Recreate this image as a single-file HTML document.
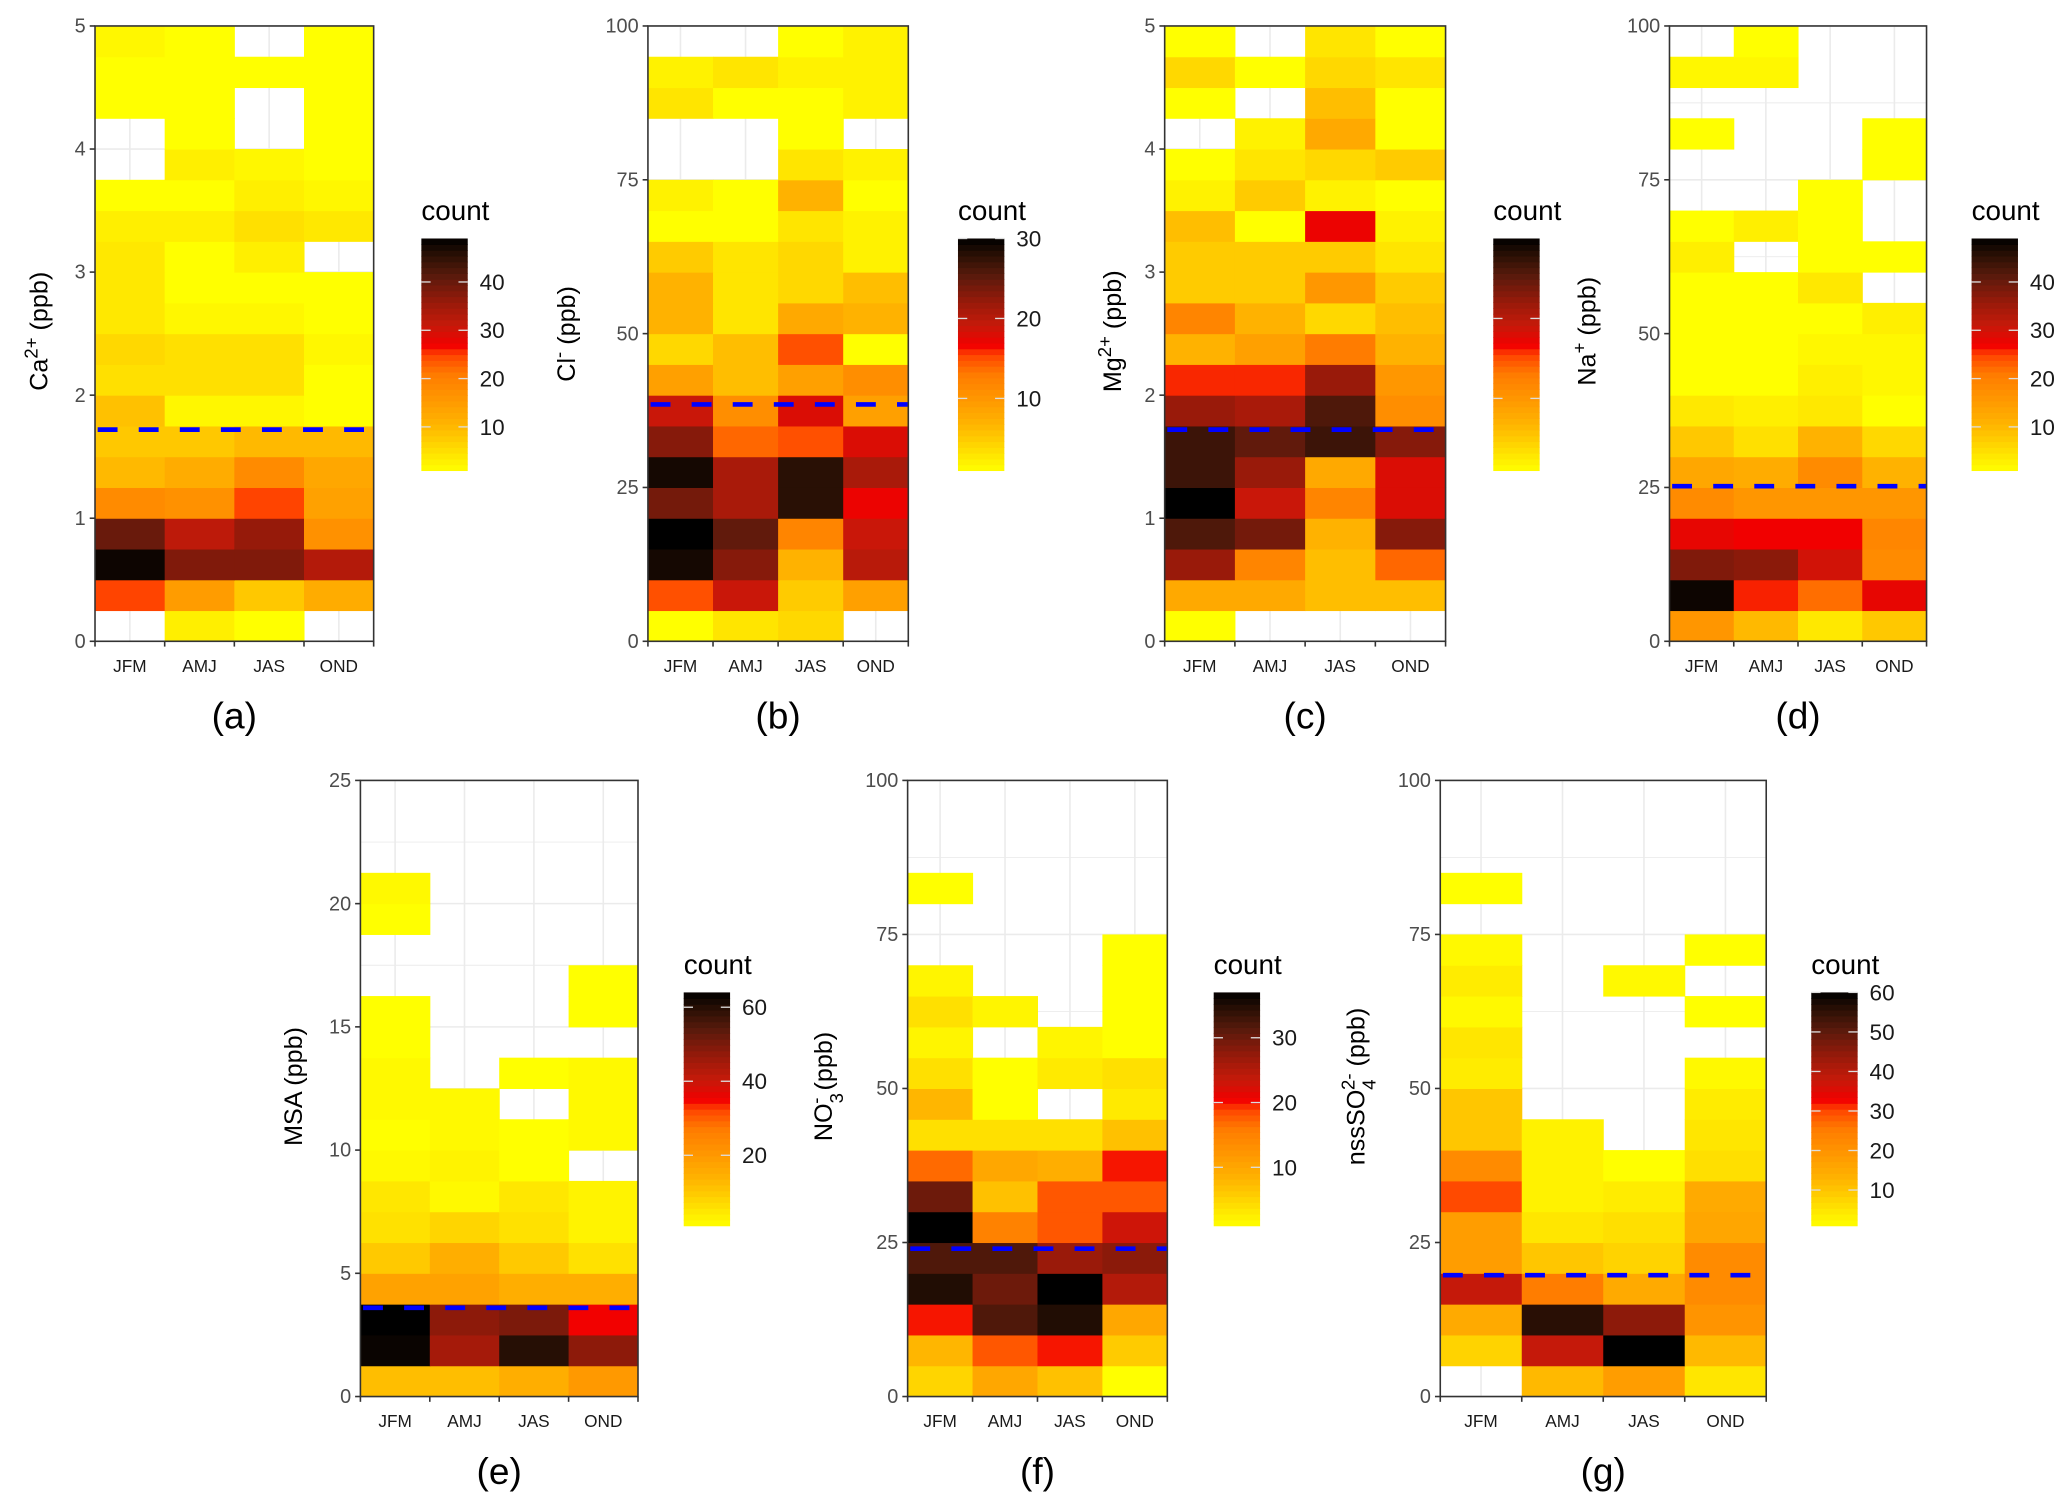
<!DOCTYPE html>
<html><head><meta charset="utf-8"><title>Seasonal concentration heatmaps</title>
<style>html,body{margin:0;padding:0;background:#fff}svg{display:block}</style></head>
<body>
<svg id="fig" xmlns="http://www.w3.org/2000/svg" width="2067" height="1502" viewBox="0 0 1560 1133.6" font-family="'Liberation Sans', sans-serif"></svg>
<script>
// ---- data (rows listed bottom-up, columns JFM, AMJ, JAS, OND; null = no data) ----
const seasons = ["JFM","AMJ","JAS","OND"];
const caCounts = [[null,3,1,null],[25,15,8,12],[48,38,38,33],[40,32,36,17],[18,17,25,14],[10,12,18,13],[8,8,10,10],[9,2,2,1],[5,5,5,1],[6,5,5,2],[4,2,2,1],[4,1,1,1],[4,1,3,null],[3,3,5,4],[1,1,3,2],[null,3,2,1],[null,1,null,1],[1,1,null,1],[1,1,1,1],[2,1,null,1]];
const clCounts = [[1,3,4,null],[15,19,5,9],[29,23,7,20],[30,25,12,19],[24,21,28,17],[29,21,28,21],[23,14,15,18],[19,11,18,9],[9,6,9,11],[4,6,15,1],[7,3,8,7],[7,3,4,6],[5,3,4,2],[1,1,3,2],[2,1,7,1],[null,null,3,2],[null,null,1,null],[3,1,1,2],[2,3,2,2],[null,null,1,2]];
const mgCounts = [[1,null,null,null],[8,8,6,6],[22,12,6,14],[26,24,7,23],[30,19,12,18],[27,22,8,18],[27,25,27,23],[22,21,26,11],[16,16,22,10],[7,9,13,7],[12,7,4,6],[5,5,10,5],[5,5,5,3],[6,1,17,2],[2,5,2,1],[1,3,4,5],[null,2,8,1],[1,null,6,1],[4,1,4,3],[1,null,3,1]];
const naCounts = [[16,10,4,8],[48,26,22,28],[38,37,30,18],[28,27,27,19],[18,16,16,16],[13,12,18,11],[8,5,11,6],[4,3,4,1],[1,1,3,2],[1,1,2,2],[1,1,1,3],[1,1,4,null],[3,null,1,1],[1,3,1,null],[null,null,1,null],[null,null,null,1],[1,null,null,1],[null,null,null,null],[2,2,null,null],[null,1,null,null]];
const msaCounts = [[12,12,15,20],[63,45,60,48],[65,48,50,35],[18,18,15,15],[10,15,10,6],[6,8,6,3],[5,2,5,3],[2,3,1,null],[1,2,1,2],[2,2,null,2],[2,null,1,2],[1,null,null,null],[1,null,null,1],[null,null,null,1],[null,null,null,null],[1,null,null,null],[2,null,null,null],[null,null,null,null],[null,null,null,null],[null,null,null,null]];
const no3Counts = [[5,10,7,1],[8,18,20,6],[20,32,35,10],[35,30,37,25],[32,32,27,28],[37,15,18,23],[30,7,18,18],[17,10,9,20],[4,4,4,7],[8,1,null,3],[4,1,3,4],[2,null,2,1],[4,2,null,1],[2,null,null,1],[null,null,null,1],[null,null,null,null],[1,null,null,null],[null,null,null,null],[null,null,null,null],[null,null,null,null]];
const so4Counts = [[null,12,18,5],[8,38,60,12],[15,56,45,20],[38,25,15,22],[18,10,8,22],[18,5,6,16],[30,3,4,15],[22,3,1,6],[10,3,null,5],[10,null,null,4],[4,null,null,2],[5,null,null,null],[2,null,null,1],[4,null,2,null],[2,null,null,1],[null,null,null,null],[1,null,null,null],[null,null,null,null],[null,null,null,null],[null,null,null,null]];
const yMaxes = [5,100,5,100,25,100,100];
const yTickLabels = [[0,1,2,3,4,5],[0,25,50,75,100],[0,1,2,3,4,5],[0,25,50,75,100],[0,5,10,15,20,25],[0,25,50,75,100],[0,25,50,75,100]];
const thresholds = [1.72,38.5,1.72,25.2,3.6,24,19.7];
const countMax = [49,30,30,49,64,37,60];
const legendTicks = [[10,20,30,40],[10,20,30],[10,20],[10,20,30,40],[20,40,60],[10,20,30],[10,20,30,40,50,60]];
const showLegendLabels = [true,true,false,true,true,true,true];
const panelLetters = ["(a)","(b)","(c)","(d)","(e)","(f)","(g)"];
const allCounts = [caCounts,clCounts,mgCounts,naCounts,msaCounts,no3Counts,so4Counts];

// ---- layout ----
const layout = [
 {x0:71.7,x1:282,y0:19.6,y1:484, lx:318, ly0:180, ly1:355, tx:30, ty:250},
 {x0:489,x1:685.5,y0:19.6,y1:484, lx:723, ly0:180, ly1:355, tx:428, ty:252},
 {x0:879,x1:1091,y0:19.6,y1:484, lx:1127, ly0:180, ly1:355, tx:840, ty:250},
 {x0:1260,x1:1454,y0:19.6,y1:484, lx:1488, ly0:180, ly1:355, tx:1198, ty:250},
 {x0:272,x1:481.5,y0:589,y1:1054, lx:516, ly0:749, ly1:925, tx:222, ty:820},
 {x0:685,x1:881,y0:589,y1:1054, lx:916, ly0:749, ly1:925, tx:622, ty:820},
 {x0:1087,x1:1333,y0:589,y1:1054, lx:1367, ly0:749, ly1:925, tx:1024, ty:820}
];
const NS="http://www.w3.org/2000/svg";
const svg=document.getElementById('fig');
const stops=[[0,[255,255,0]],[0.2,[255,180,0]],[0.42,[255,122,0]],[0.5,[255,68,0]],[0.54,[242,0,0]],[0.63,[196,26,10]],[0.73,[150,26,10]],[0.84,[90,26,12]],[0.93,[42,16,5]],[1,[0,0,0]]];
function colorFor(v,max){
  let t=(v-1)/(max-1); t=Math.max(0,Math.min(1,t));
  for(let i=1;i<stops.length;i++){
    if(t<=stops[i][0]){
      const a=stops[i-1],b=stops[i];const f=(t-a[0])/(b[0]-a[0]);
      const c=a[1].map((x,k)=>Math.round(x+(b[1][k]-x)*f));
      return 'rgb('+c.join(',')+')';
    }
  }
  return 'rgb(0,0,0)';
}
function mk(tag,attrs,parent){const e=document.createElementNS(NS,tag);for(const k in attrs)e.setAttribute(k,attrs[k]);(parent||svg).appendChild(e);return e;}

const titles=[
 [["Ca",0],["2+",1],[" (ppb)",0]],
 [["Cl",0],["-",1],[" (ppb)",0]],
 [["Mg",0],["2+",1],[" (ppb)",0]],
 [["Na",0],["+",1],[" (ppb)",0]],
 [["MSA (ppb)",0]],
 [["NO",0],["3",2],["-",3],[" (ppb)",0]],
 [["nssSO",0],["4",2],["2-",3],[" (ppb)",0]]
];

for(let p=0;p<7;p++){
  const L=layout[p], counts=allCounts[p], ymax=yMaxes[p], nRows=counts.length;
  const g=mk('g',{});
  
  
  const xs=i=>L.x0+(L.x1-L.x0)*i/4;
  const ys=v=>L.y1-(L.y1-L.y0)*v/ymax;
  const step=yTickLabels[p][1]-yTickLabels[p][0];
  for(let v=0;v<=ymax+1e-9;v+=step/2){
    const gl=mk('line',{x1:L.x0,x2:L.x1,y1:ys(v),y2:ys(v),stroke:'#ebebeb','stroke-width':v%step===0?1.2:0.7},g);
    
    
  }
  for(let i=0;i<4;i++){
    const gv=mk('line',{x1:xs(i+0.5),x2:xs(i+0.5),y1:L.y0,y2:L.y1,stroke:'#ebebeb','stroke-width':1.2},g);
    
    
  }
  const rh=ymax/nRows;
  for(let r=0;r<nRows;r++){
    for(let c=0;c<4;c++){
      const v=counts[r][c]; if(v===null) continue;
      const y1=ys(r*rh), y2=ys((r+1)*rh);
      const rect=mk('rect',{x:xs(c),y:y2,width:xs(c+1)-xs(c)+0.4,height:y1-y2+0.4,fill:colorFor(v,countMax[p])},g);
      
      
    }
  }
  const dl=mk('line',{x1:L.x0+2,x2:L.x1,y1:ys(thresholds[p]),y2:ys(thresholds[p]),stroke:'#0000ff','stroke-width':3.5,'stroke-dasharray':'15 16'},g);
  
  
  const fr=mk('rect',{x:L.x0,y:L.y0,width:L.x1-L.x0,height:L.y1-L.y0,fill:'none',stroke:'#333','stroke-width':1.2},g);
  
  
  for(const t of yTickLabels[p]){
    const tk=mk('line',{x1:L.x0-4,x2:L.x0,y1:ys(t),y2:ys(t),stroke:'#333','stroke-width':1.2},g);
    
    
    const tl=mk('text',{x:L.x0-7,y:ys(t)+5,'text-anchor':'end','font-size':15,fill:'#4d4d4d'},g);
    tl.textContent=t;
    
    
  }
  for(let i=0;i<=4;i++){
    const tk=mk('line',{x1:xs(i),x2:xs(i),y1:L.y1,y2:L.y1+4,stroke:'#333','stroke-width':1.2},g);
    
    
  }
  for(let i=0;i<4;i++){
    const tl=mk('text',{x:xs(i+0.5),y:L.y1+23,'text-anchor':'middle','font-size':13,fill:'#1a1a1a'},g);
    tl.textContent=seasons[i];
    
    
  }
  const yt=mk('text',{x:0,y:0,'text-anchor':'middle','font-size':19,fill:'#000',transform:'translate('+(L.tx+6)+','+L.ty+') rotate(-90)'},g);
  
  
  for(const [s,k] of titles[p]){
    const ts=mk('tspan',{},yt); ts.textContent=s;
    if(k===1){ts.setAttribute('baseline-shift','super');ts.setAttribute('font-size',14);}
    if(k===2){ts.setAttribute('baseline-shift','sub');ts.setAttribute('font-size',14);}
    if(k===3){ts.setAttribute('baseline-shift','super');ts.setAttribute('font-size',14);ts.setAttribute('dx',-8);}
  }
  const pl=mk('text',{x:(L.x0+L.x1)/2,y:L.y1+66,'text-anchor':'middle','font-size':28,fill:'#000'},g);
  pl.textContent=panelLetters[p];
  
  
  const lg=mk('g',{},g);
  
  
  const lt=mk('text',{x:L.lx,y:L.ly0-14,'font-size':21,fill:'#000'},lg);
  lt.textContent='count';
  
  
  const nb=40, mx=countMax[p];
  for(let i=0;i<nb;i++){
    const v=1+(mx-1)*(i+0.5)/nb;
    const hh=(L.ly1-L.ly0)/nb;
    const br=mk('rect',{x:L.lx,y:L.ly1-(i+1)*hh,width:35,height:hh+0.5,fill:colorFor(v,mx)},lg);
    
    
  }
  const ly=v=>L.ly1-(L.ly1-L.ly0)*(v-1)/(mx-1);
  for(const t of legendTicks[p]){
    const a=mk('line',{x1:L.lx,x2:L.lx+7,y1:ly(t),y2:ly(t),stroke:'#ddd','stroke-width':1},lg);
    
    
    const b=mk('line',{x1:L.lx+28,x2:L.lx+35,y1:ly(t),y2:ly(t),stroke:'#ddd','stroke-width':1},lg);
    
    
    if(showLegendLabels[p]){
      const tx=mk('text',{x:L.lx+44,y:ly(t)+6,'font-size':17,fill:'#1a1a1a'},lg);
      tx.textContent=t;
      
      
    }
  }
}
</script>
</body></html>
